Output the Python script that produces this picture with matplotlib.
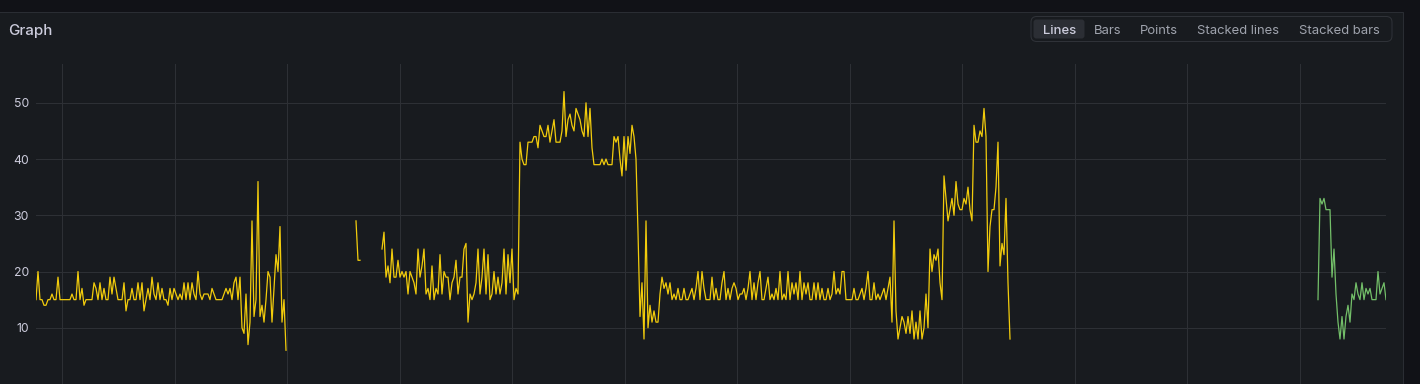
import numpy as np
import matplotlib
matplotlib.use("Agg")
import matplotlib.pyplot as plt
from matplotlib.patches import Rectangle, FancyBboxPatch

# Figure size in px
W, H = 1420, 384

# Series values, one sample every step (gaps = missing samples)
seg1 = [
    15, 20, 15, 15, 14, 14, 15, 15, 16, 15,
    15, 19, 15, 15, 15, 15, 15, 15, 16, 15,
    15, 20, 15, 17, 14, 15, 15, 15, 15, 18,
    17, 15, 18, 15, 17, 15, 15, 19, 16, 19,
    17, 15, 15, 15, 18, 13, 15, 15, 17, 15,
    15, 18, 15, 18, 13, 15, 17, 15, 19, 16,
    15, 18, 15, 17, 15, 15, 14, 17, 15, 17,
    16, 15, 16, 15, 18, 15, 18, 15, 18, 16,
    15, 20, 16, 15, 16, 16, 16, 15, 17, 16,
    15, 15, 15, 15, 16, 17, 16, 17, 15, 18,
    19, 15, 19, 10, 9, 16, 7, 11, 29, 12,
    15, 36, 12, 14, 11, 15, 20, 19, 11, 17,
    23, 20, 28, 11, 15, 6,
]
seg2 = [29, 22, 22]
seg3 = [
    24, 27, 19, 21, 18, 24, 19, 19, 22, 19,
    20, 19, 20, 16, 20, 19, 18, 16, 24, 19,
    21, 24, 16, 17, 15, 21, 15, 17, 16, 23,
    16, 20, 19, 19, 15, 18, 19, 22, 16, 19,
    19, 24, 25, 11, 16, 15, 16, 18, 24, 16,
    19, 24, 16, 23, 15, 16, 20, 16, 19, 16,
    18, 24, 16, 23, 18, 24, 15, 17, 16, 43,
    40, 39, 39, 43, 43, 43, 44, 44, 42, 46,
    45, 44, 44, 46, 43, 45, 47, 43, 43, 43,
    45, 52, 44, 47, 48, 46, 45, 49, 48, 47,
    45, 44, 50, 44, 49, 42, 39, 39, 39, 39,
    40, 39, 40, 39, 39, 39, 44, 43, 44, 40,
    37, 44, 38, 44, 41, 46, 44, 40, 27, 12,
    18, 8, 29, 10, 14, 11, 13, 11, 11, 16,
    19, 17, 18, 16, 18, 15, 16, 15, 17, 15,
    15, 17, 15, 15, 16, 17, 15, 17, 20, 15,
    20, 17, 15, 15, 15, 19, 15, 17, 15, 15,
    18, 20, 15, 17, 15, 17, 18, 17, 15, 16,
    16, 17, 15, 17, 20, 15, 18, 15, 18, 20,
    15, 15, 17, 19, 15, 16, 15, 17, 15, 20,
    15, 16, 15, 20, 15, 18, 16, 18, 15, 20,
    15, 18, 16, 18, 15, 15, 18, 15, 18, 15,
    17, 15, 15, 17, 15, 16, 20, 16, 17, 16,
    20, 20, 15, 15, 15, 15, 17, 15, 15, 16,
    17, 15, 17, 20, 15, 15, 18, 15, 16, 15,
    16, 17, 15, 17, 19, 11, 29, 13, 8, 10,
    12, 11, 9, 12, 9, 13, 8, 11, 8, 13,
    8, 10, 16, 10, 24, 20, 23, 22, 24, 18,
    15, 37, 33, 29, 31, 33, 30, 36, 32, 31,
    31, 33, 32, 35, 31, 29, 46, 43, 43, 45,
    44, 49, 44, 20, 28, 31, 31, 35, 43, 21,
    25, 23, 33, 18, 8,
]
gap1 = 34   # missing samples between seg1 and seg2
gap2 = 10   # missing samples between seg2 and seg3

green = [
    15, 33, 32, 33, 31, 31, 31, 19, 24, 16,
    11, 8, 12, 8, 12, 14, 11, 16, 15, 18,
    16, 15, 18, 15, 17, 16, 17, 15, 15, 15,
    20, 16, 17, 18, 15,
]
green_start = 641   # sample index where second series begins
n_samples = 675

y_ticks = [10, 20, 30, 40, 50]

YELLOW = "#F2CC0C"
GREEN = "#73BF69"
BG_OUTER = "#111217"
BG_PANEL = "#181b1f"
BORDER = "#2a2d33"
GRID = "#2d3035"
TEXT = "#ccccdc"
TEXT_DIM = "#9fa3ad"

plt.rcParams["font.family"] = ["Inter", "DejaVu Sans"]

yellow = np.concatenate([
    np.array(seg1, float), np.full(gap1, np.nan),
    np.array(seg2, float), np.full(gap2, np.nan),
    np.array(seg3, float),
])
x_yellow = np.arange(len(yellow))
x_green = green_start + np.arange(len(green))


def fx(px):
    return px / W


def fy(py):
    return 1 - py / H


fig = plt.figure(figsize=(W / 100, H / 100), dpi=100, facecolor=BG_OUTER)

# panel background + border (drawn behind the axes)
fig.add_artist(Rectangle((fx(-2), fy(H + 2)), fx(1402.5 + 2), (H + 2 - 11.5) / H,
                         transform=fig.transFigure, facecolor=BG_PANEL,
                         edgecolor=BORDER, lw=0.75, zorder=-5))

fig.text(fx(8), fy(34.5), "Graph", color=TEXT, fontsize=10.9, fontweight="medium",
         ha="left", va="baseline")

# radio button group
fig.add_artist(FancyBboxPatch((fx(1031), fy(41.5)), fx(1392 - 1031), (41.5 - 16.5) / H,
                              boxstyle="round,pad=0,rounding_size=0.004",
                              transform=fig.transFigure, facecolor=BG_PANEL,
                              edgecolor="#2f3238", lw=0.75, mutation_aspect=W / H,
                              zorder=-4))
fig.add_artist(FancyBboxPatch((fx(1033.5), fy(38.5)), fx(1084.5 - 1033.5), (38.5 - 19.5) / H,
                              boxstyle="round,pad=0,rounding_size=0.002",
                              transform=fig.transFigure, facecolor="#2b2e34",
                              edgecolor="none", mutation_aspect=W / H, zorder=-3))
options = ["Lines", "Bars", "Points", "Stacked lines", "Stacked bars"]
centers = [1059.3, 1107.7, 1158.8, 1238.3, 1339.5]
for label, cx in zip(options, centers):
    active = label == "Lines"
    fig.text(fx(cx), fy(34), label, color=TEXT if active else TEXT_DIM,
             fontsize=9.4, fontweight="medium" if active else "normal",
             ha="center", va="baseline")

# plot area
ax = fig.add_axes([fx(36), 0, fx(1386 - 36), (384 - 64) / H])
ax.set_facecolor("none")
ax.plot(x_yellow, yellow, color=YELLOW, lw=0.9)
ax.plot(x_green, green, color=GREEN, lw=0.9)

ax.set_xlim(0, n_samples)
ax.set_ylim(0, 56.9)
ax.set_xticks(np.arange(13, n_samples, 56.25))
ax.set_yticks(y_ticks)
ax.grid(True, color=GRID, lw=0.75)
ax.set_axisbelow(True)
for s in ax.spines.values():
    s.set_visible(False)
ax.tick_params(length=0, labelsize=8.8, labelcolor=TEXT, pad=5)
ax.tick_params(axis="x", labelbottom=False)

fig.savefig("out.png", dpi=100, facecolor=fig.get_facecolor())
